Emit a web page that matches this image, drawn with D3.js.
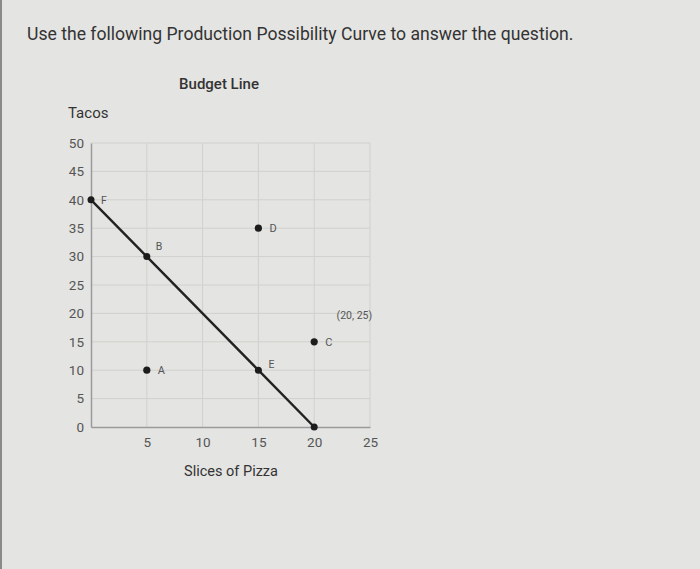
<!DOCTYPE html>
<html>
<head>
<meta charset="utf-8">
<script src="https://cdn.jsdelivr.net/npm/d3@7"></script>
<style>
  body { margin: 0; background: #e4e4e2; }
  svg { display: block; font-family: Roboto, "Noto Sans", sans-serif; }
</style>
</head>
<body>
<svg id="chart" width="700" height="569"></svg>
<script>
// budget line data
const xTicks = [0, 5, 10, 15, 20, 25];
const yTicks = [0, 5, 10, 15, 20, 25, 30, 35, 40, 45, 50];
const lineX = [0, 5, 15, 20];
const lineY = [40, 30, 10, 0];
const lineLabels = ['F', 'B', 'E', ''];
const dotX = [5, 15, 20];
const dotY = [10, 35, 15];
const dotLabels = ['A', 'D', 'C'];
const noteText = '(20, 25)';
const notePos = [23.6, 19];

const svg = d3.select('#chart');

const x = d3.scaleLinear().domain([0, 25]).range([91, 370]);
const y = d3.scaleLinear().domain([0, 50]).range([427, 143]);

svg.append('rect').attr('width', 700).attr('height', 569).attr('fill', '#e4e4e2');
svg.append('rect').attr('width', 2).attr('height', 569).attr('fill', '#8a8a8a');

// grid
svg.append('g').selectAll('line.v')
  .data(xTicks.slice(1))
  .join('line')
  .attr('x1', d => x(d)).attr('x2', d => x(d))
  .attr('y1', y(0)).attr('y2', y(50))
  .attr('stroke', '#d0d0ce').attr('stroke-width', 1);

svg.append('g').selectAll('line.h')
  .data(yTicks.slice(1))
  .join('line')
  .attr('x1', x(0)).attr('x2', x(25))
  .attr('y1', d => y(d)).attr('y2', d => y(d))
  .attr('stroke', '#d0d0ce').attr('stroke-width', 1);

// axes
const xAxis = svg.append('g')
  .attr('transform', `translate(0,${y(0)})`)
  .call(d3.axisBottom(x).tickValues(xTicks.slice(1)).tickSize(0).tickPadding(10));
const yAxis = svg.append('g')
  .attr('transform', `translate(${x(0)},0)`)
  .call(d3.axisLeft(y).tickValues(yTicks).tickSize(0).tickPadding(7));

[xAxis, yAxis].forEach(a => {
  a.select('.domain').attr('stroke', '#9a9a9a').attr('stroke-width', 1.5);
  a.selectAll('text').attr('fill', '#555').style('font-size', '13.5px')
    .style('font-family', 'Roboto, sans-serif');
});

// budget line
const pts = lineX.map((v, i) => ({ x: v, y: lineY[i], label: lineLabels[i] }));
svg.append('path')
  .datum(pts)
  .attr('d', d3.line().x(d => x(d.x)).y(d => y(d.y)))
  .attr('fill', 'none')
  .attr('stroke', '#222')
  .attr('stroke-width', 2.4);

svg.append('g').selectAll('circle')
  .data(pts)
  .join('circle')
  .attr('cx', d => x(d.x)).attr('cy', d => y(d.y))
  .attr('r', 3.5).attr('fill', '#1c1c1c');

const labelOffsets = { F: [10, 0], B: [9, -11], E: [10, -6] };
svg.append('g').selectAll('text')
  .data(pts.filter(d => d.label))
  .join('text')
  .attr('x', d => x(d.x) + labelOffsets[d.label][0])
  .attr('y', d => y(d.y) + labelOffsets[d.label][1] + 4)
  .attr('fill', '#555')
  .style('font-size', '10.5px')
  .text(d => d.label);

// other points
const dots = dotX.map((v, i) => ({ x: v, y: dotY[i], label: dotLabels[i] }));
svg.append('g').selectAll('circle')
  .data(dots)
  .join('circle')
  .attr('cx', d => x(d.x)).attr('cy', d => y(d.y))
  .attr('r', 3.6).attr('fill', '#1c1c1c');

svg.append('g').selectAll('text')
  .data(dots)
  .join('text')
  .attr('x', d => x(d.x) + 11)
  .attr('y', d => y(d.y) + 4)
  .attr('fill', '#555')
  .style('font-size', '11px')
  .text(d => d.label);

svg.append('text')
  .attr('x', x(notePos[0]))
  .attr('y', y(notePos[1]))
  .attr('text-anchor', 'middle')
  .attr('fill', '#555')
  .style('font-size', '10.5px')
  .text(noteText);

// titles
svg.append('text')
  .attr('x', 27).attr('y', 40)
  .attr('fill', '#333')
  .style('font-size', '17.6px')
  .text('Use the following Production Possibility Curve to answer the question.');

svg.append('text')
  .attr('x', 219).attr('y', 89)
  .attr('text-anchor', 'middle')
  .attr('fill', '#333')
  .style('font-size', '15px')
  .style('font-weight', 500)
  .text('Budget Line');

svg.append('text')
  .attr('x', 68).attr('y', 118)
  .attr('fill', '#333')
  .style('font-size', '15px')
  .text('Tacos');

svg.append('text')
  .attr('x', 231).attr('y', 476)
  .attr('text-anchor', 'middle')
  .attr('fill', '#333')
  .style('font-size', '14.5px')
  .text('Slices of Pizza');
</script>
</body>
</html>
